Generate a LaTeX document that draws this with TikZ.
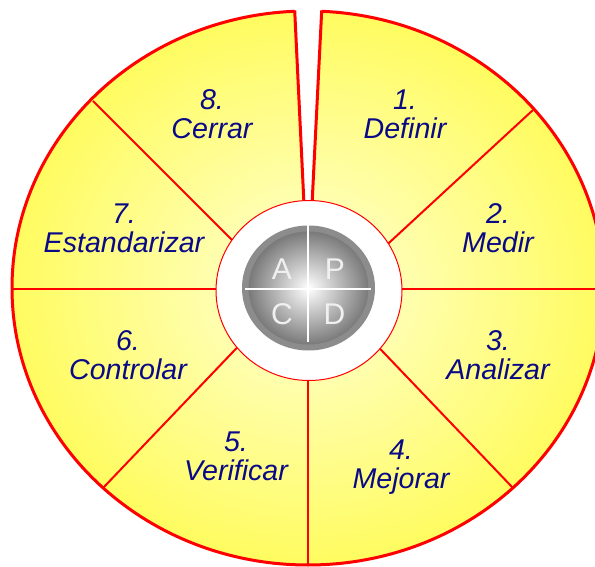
\documentclass[tikz,border=0pt]{standalone}
\usepackage{fontspec}
\setmainfont{Liberation Sans}
\definecolor{yin}{RGB}{255,255,212}
\definecolor{yout}{RGB}{255,252,96}
\definecolor{navy}{RGB}{10,10,135}
\definecolor{ringgray}{RGB}{140,140,140}
\definecolor{ballgray}{RGB}{122,122,122}
\definecolor{ltrgray}{RGB}{240,240,240}
\begin{document}
\begin{tikzpicture}[x=1pt,y=-1pt,
  lbl/.style={text=navy, font=\fontsize{28.6}{29}\selectfont\itshape, align=center, inner sep=0pt},
  ltr/.style={text=ltrgray, font=\fontsize{30}{31}\selectfont, inner sep=0pt},
  divline/.style={draw=red, line width=2},
  rimline/.style={draw=red, line width=3},
  crossline/.style={draw=white, line width=2.2}]
\useasboundingbox (0,0) rectangle (595,567);
\clip (0,0) rectangle (595,567);
% outer disc
\shade[inner color=yin, outer color=yout] (308,288) ellipse [x radius=296, y radius=277];
% dividing lines
\coordinate (ulo) at (93,101);   \coordinate (uli) at (268,276);
\coordinate (uro) at (533,110);  \coordinate (uri) at (352,277);
\coordinate (llo) at (103,488);  \coordinate (lli) at (272,311);
\coordinate (lro) at (513,488);  \coordinate (lri) at (344,311);
\coordinate (hl) at (0,289);     \coordinate (hr) at (620,289);
\coordinate (vb) at (308,580);   \coordinate (vt) at (308,330);
\begin{scope}
\clip (308,288) ellipse [x radius=296, y radius=277];
\draw[divline] (ulo) -- (uli);
\draw[divline] (uro) -- (uri);
\draw[divline] (llo) -- (lli);
\draw[divline] (lro) -- (lri);
\draw[divline] (hl) -- (hr);
\draw[divline] (vt) -- (vb);
\end{scope}
\draw[rimline] (308,288) ellipse [x radius=296, y radius=277];
% gap at the top
\coordinate (gl1) at (294.7,10.5); \coordinate (gl2) at (304.5,215);
\coordinate (gr1) at (321.7,10.5); \coordinate (gr2) at (311.5,215);
\fill[white] (294.2,-2) -- (gl2) -- (gr2) -- (322.3,-2) -- cycle;
\draw[rimline] (gl1) -- (gl2);
\draw[rimline] (gr1) -- (gr2);
% inner white disc
\fill[white, draw=red, line width=1] (309,290.5) ellipse [x radius=93, y radius=90];
% ball
\fill[ringgray] (308.5,288) ellipse [x radius=66.5, y radius=62.5];
\shade[inner color=white, outer color=ballgray] (308.5,288) ellipse [x radius=60, y radius=56.5];
\coordinate (ch1) at (245,289); \coordinate (ch2) at (371,289);
\coordinate (cv1) at (308,225); \coordinate (cv2) at (308,342);
\draw[crossline] (ch1) -- (ch2);
\draw[crossline] (cv1) -- (cv2);
\node[ltr] (la) at (282,269) {A};
\node[ltr] (lp) at (335,269) {P};
\node[ltr] (lc) at (282,314.5) {C};
\node[ltr] (ld) at (334.5,314.5) {D};
% labels
\node[lbl] (n1) at (405,114) {1.\\Definir};
\node[lbl] (n2) at (498,228) {2.\\Medir};
\node[lbl] (n3) at (498,355) {3.\\Analizar};
\node[lbl] (n4) at (401,467) {4.\\Mejorar};
\node[lbl] (n5) at (236,456) {5.\\Verificar};
\node[lbl] (n6) at (128,355) {6.\\Controlar};
\node[lbl] (n7) at (124,228) {7.\\Estandarizar};
\node[lbl] (n8) at (212,114) {8.\\Cerrar};
\end{tikzpicture}
\end{document}
